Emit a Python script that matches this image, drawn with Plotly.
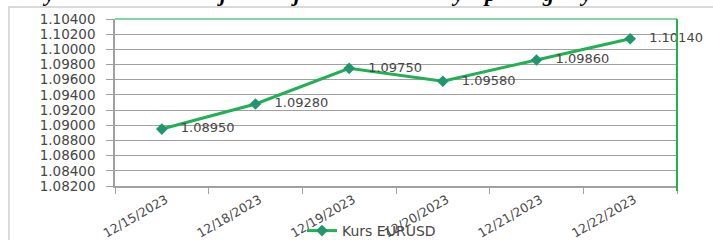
import plotly.graph_objects as go

dates = ["12/15/2023", "12/18/2023", "12/19/2023", "12/20/2023", "12/21/2023", "12/22/2023"]
rates = [1.08950, 1.09280, 1.09750, 1.09580, 1.09860, 1.10140]
series_name = "Kurs EURUSD"
y_ticks = [1.082 + 0.002 * i for i in range(12)]
y_tick_labels = [f"{v:.5f}" for v in y_ticks]
# cropped title descenders at top (glyph, x pixel)
title_glyphs = [("y", 48), ("j", 222), ("j", 296), ("y", 457), ("p", 489), ("g", 548), ("y", 585)]

W, H = 713, 240
L, R, T, B = 115, 36, 19, 54
pw, ph = W - L - R, H - T - B

def px_x(p):
    return (p - L) / pw

def px_y(p):
    return (H - B - p) / ph

GREEN = "rgb(34,176,84)"
MARK = "rgb(32,150,110)"
GRID = "rgb(160,160,160)"
TXT = "rgb(70,70,70)"
FONT = "DejaVu Sans"

fig = go.Figure()
fig.add_trace(go.Scatter(
    x=dates, y=rates, mode="lines+markers+text", name=series_name,
    line=dict(color=GREEN, width=3),
    marker=dict(symbol="diamond", size=9, color=MARK),
    text=[f"   {v:.5f}" for v in rates], textposition="middle right",
    textfont=dict(family=FONT, size=13, color=TXT),
    cliponaxis=False,
))

shapes = [
    dict(type="rect", xref="paper", yref="paper", x0=px_x(9), x1=1.5, y0=-1, y1=px_y(7),
         line=dict(color="rgb(205,205,205)", width=1.5), layer="below"),
    dict(type="line", xref="paper", yref="paper", x0=0, x1=1, y0=1, y1=1,
         line=dict(color="rgb(90,200,130)", width=1.5)),
    dict(type="line", xref="paper", yref="paper", x0=1, x1=1, y0=px_y(191), y1=1,
         line=dict(color=GREEN, width=2)),
]

annotations = [
    dict(text=f"<b><i>{g}</i></b>", x=px_x(xp), y=px_y(-7), xref="paper", yref="paper",
         xanchor="center", yanchor="middle", showarrow=False,
         font=dict(family="Liberation Serif", size=22, color="black"))
    for g, xp in title_glyphs
]

fig.update_layout(
    width=W, height=H,
    margin=dict(l=L, r=R, t=T, b=B, autoexpand=False),
    paper_bgcolor="white", plot_bgcolor="white",
    showlegend=True,
    legend=dict(orientation="h", x=px_x(302), y=px_y(231), xanchor="left", yanchor="middle",
                font=dict(family=FONT, size=14, color=TXT), bgcolor="rgba(0,0,0,0)"),
    shapes=shapes, annotations=annotations,
    xaxis=dict(type="category", range=[-0.5, 5.5], tickson="boundaries", automargin=False,
               ticks="outside", ticklen=6, tickcolor=GRID, showline=True, linecolor=GRID,
               linewidth=1.5, showgrid=False, tickangle=-30,
               ticklabelstandoff=0, ticklabelshift=4,
               tickfont=dict(family=FONT, size=12.5, color=TXT)),
    yaxis=dict(range=[1.082, 1.104], tickvals=y_ticks, ticktext=y_tick_labels, automargin=False,
               ticks="outside", ticklen=7, tickcolor=GRID, showline=True, linecolor=GRID,
               linewidth=1.5, showgrid=True, gridcolor=GRID, gridwidth=1, zeroline=False,
               ticklabelstandoff=8,
               tickfont=dict(family=FONT, size=13.5, color=TXT)),
)

fig.write_html("out.html", config={"displayModeBar": False},
               post_script="document.body.style.margin='0';")
